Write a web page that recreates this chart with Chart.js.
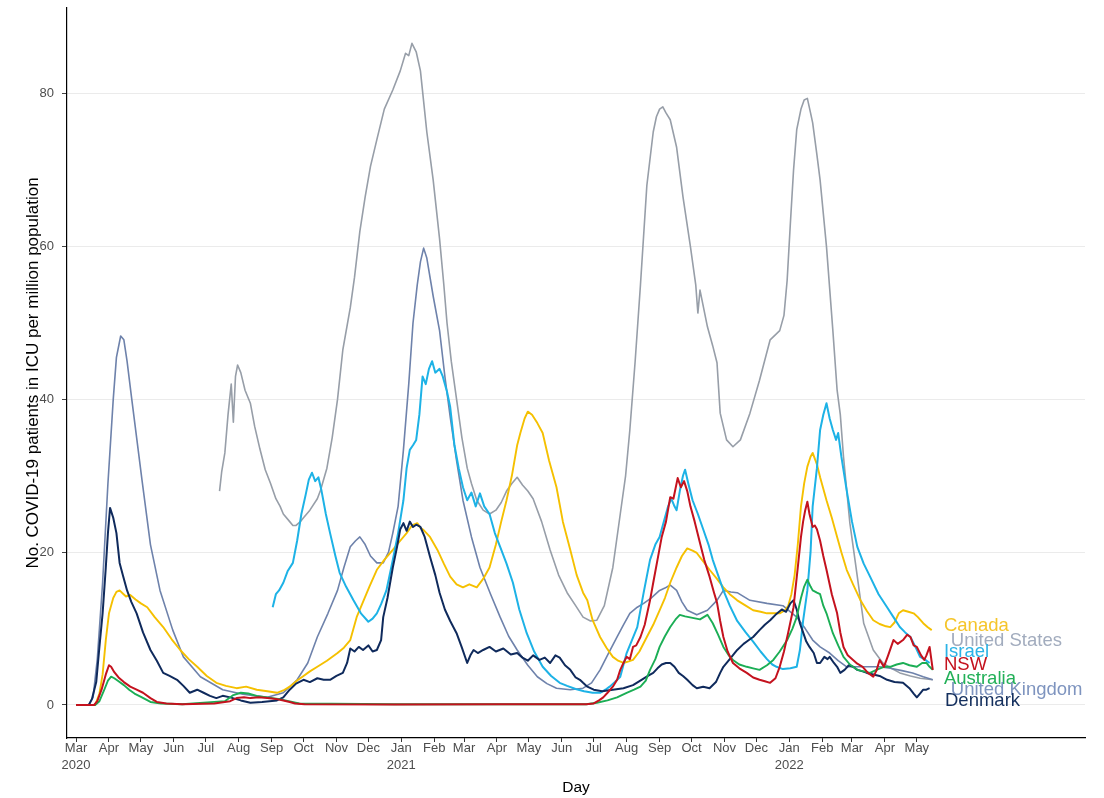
<!DOCTYPE html>
<html><head><meta charset="utf-8">
<script src="https://cdn.jsdelivr.net/npm/chart.js@4.4.1/dist/chart.umd.min.js"></script>
<style>html,body{margin:0;padding:0;background:#fff;}#wrap{width:1104px;height:798px;}</style>
</head><body><div id="wrap"><canvas id="c" width="1104" height="798"></canvas></div>
<script>
// x values = days since 2020-03-01
const xTickDays = [0,31,61,92,122,153,184,214,245,275,306,337,365,396,426,457,487,518,549,579,610,640,671,702,730,761,791];
const xTickLabels = [["Mar","2020"],"Apr","May","Jun","Jul","Aug","Sep","Oct","Nov","Dec",["Jan","2021"],"Feb","Mar","Apr","May","Jun","Jul","Aug","Sep","Oct","Nov","Dec",["Jan","2022"],"Feb","Mar","Apr","May"];
const yTicks = [0,20,40,60,80];

const seriesNames = ["Canada","United States","Israel","NSW","Australia","United Kingdom","Denmark"];

const usData = [[135,28],[137,30.5],[140,33],[143,38],[146,42],[148,37],[150,43],[152,44.5],[155,43.5],[159,41.2],[164,39.5],[168,36.5],[173,33.5],[178,30.8],[183,29],[188,27],[192,26],[195,25],[201,24],[204,23.5],[207,23.5],[211,24],[214,24.5],[220,25.5],[227,27],[230,28.1],[236,31],[241,35],[246,40],[251,46.5],[258,52],[262,56],[267,62],[272,66.5],[277,70.5],[283,74],[290,78],[298,80.5],[305,83],[310,85.3],[313,85],[316,86.6],[320,85.5],[324,83],[327,79],[330,75],[336,68.7],[342,61],[346,55],[349,50],[353,45],[358,40],[363,35],[368,31],[372,29],[377,26.8],[383,25.5],[389,25],[395,25.5],[400,26.5],[405,28],[410,29],[415,29.8],[420,28.8],[425,28],[430,27],[438,24],[446,20.3],[454,17],[462,14.7],[470,13],[477,11.5],[484,11],[490,11.1],[497,13],[505,18],[512,25],[517,30],[521,36],[526,45],[531,55],[537,68],[543,75],[546,77],[549,78],[552,78.3],[555,77.5],[559,76.6],[565,73],[571,66.5],[578,60],[583,55],[585,51.3],[587,54.3],[594,49.5],[599,47],[603,44.8],[606,38.2],[612,34.7],[618,33.8],[625,34.7],[634,38.2],[643,42.5],[653,47.8],[662,49],[666,51],[669,55.6],[672,63],[675,70],[678,75.3],[682,78],[685,79.2],[688,79.4],[691,77.5],[693,76.2],[697,72],[700,68.7],[706,60],[712,49],[716,41.2],[719,38],[722,32.5],[728,23.8],[735,16.8],[741,10.7],[750,7.2],[759,5.5],[767,4.8],[775,4.2],[785,3.8],[794,3.5],[806,3.3]];

const ukData = [[0,0],[12,0],[16,1],[20,6],[25,16],[30,29],[35,40],[38,45.5],[42,48.3],[45,47.8],[48,45],[52,40.5],[57,35],[62,29.5],[70,21],[79,15],[91,9.8],[101,6.3],[117,3.7],[138,2],[157,1.4],[180,1],[195,1.6],[208,3.3],[218,5.5],[227,8.9],[237,12],[246,15],[252,18],[258,20.7],[263,21.5],[267,22],[272,21],[277,19.5],[283,18.6],[289,18.6],[294,20],[298,22.5],[303,26],[308,33.4],[313,42],[317,50],[321,55],[324,58],[327,59.8],[330,58.5],[336,53.5],[342,49],[347,43],[352,37.7],[358,32],[364,26.8],[372,22],[380,18],[390,14.5],[399,11.5],[407,9],[415,7.2],[425,5.2],[434,3.7],[443,2.8],[452,2.2],[465,2],[477,2.2],[485,2.9],[493,4.6],[501,6.8],[509,8.9],[515,10.5],[521,12],[528,12.8],[534,13.3],[541,14],[549,15],[554,15.3],[559,15.7],[565,15],[570,13.5],[575,12.4],[584,11.8],[594,12.4],[603,13.7],[609,15],[616,14.8],[622,14.7],[634,13.7],[650,13.3],[665,13],[678,11.5],[686,10],[693,8.5],[700,7.6],[709,6.8],[717,5.8],[725,5],[735,5],[745,5],[756,5],[766,4.8],[777,4.5],[787,4.2],[797,3.7],[806,3.3]];

const canadaData = [[0,0],[18,0],[22,1.5],[25,4],[28,8.5],[31,12],[35,14],[38,14.8],[41,15],[44,14.6],[47,14.2],[51,14.4],[56,13.8],[61,13.3],[67,12.8],[74,11.5],[82,10.2],[90,8.6],[98,7.2],[106,6],[114,5],[123,3.8],[132,2.9],[141,2.5],[151,2.2],[160,2.4],[170,2],[180,1.8],[189,1.6],[195,1.9],[201,2.4],[208,3.2],[214,3.8],[220,4.4],[227,5],[236,5.8],[246,6.8],[252,7.5],[258,8.5],[264,11.5],[270,13.5],[276,15.5],[283,17.7],[290,19],[298,20.3],[305,21.5],[311,22.5],[316,23.5],[321,23.8],[324,23.2],[327,22.9],[333,22],[340,20.3],[346,18.5],[352,16.8],[358,15.8],[364,15.4],[370,15.8],[377,15.4],[383,16.5],[389,18],[395,21],[400,24],[405,26.8],[410,30],[415,34],[418,35.6],[422,37.5],[425,38.4],[429,38],[434,36.9],[439,35.6],[445,32],[452,28.5],[458,24],[465,20.3],[471,17],[477,14.7],[481,13.7],[486,11.1],[493,8.9],[499,7.5],[505,6.3],[510,5.8],[515,5.5],[520,5.7],[524,5.9],[530,7],[537,8.9],[543,10.5],[549,12.4],[554,14],[559,16],[565,18],[570,19.5],[575,20.5],[580,20.2],[584,19.9],[590,18.8],[596,17.7],[603,16.5],[609,15.4],[615,14.5],[622,13.7],[630,13],[637,12.4],[644,12.2],[650,12],[656,12],[662,12],[667,12.4],[670,13],[673,14.5],[676,17],[679,21],[682,26],[685,29],[688,31.2],[691,32.5],[693,33],[697,31.5],[700,29.8],[703,28.3],[706,26.8],[711,24.5],[716,22],[720,20],[725,17.7],[731,15.8],[738,13.7],[744,12.3],[750,11.1],[756,10.6],[762,10.3],[766,10.2],[770,10.8],[774,12],[778,12.4],[783,12.2],[788,12],[792,11.5],[797,10.7],[801,10.2],[805,9.8]];

const israelData = [[185,12.8],[188,14.5],[191,15],[195,16],[199,17.5],[204,18.6],[208,21.5],[212,25],[216,27.5],[219,29.5],[222,30.4],[225,29.3],[228,29.8],[231,28],[235,25],[239,22.5],[244,19.5],[248,17.3],[254,15.5],[261,13.7],[268,12],[275,10.9],[279,11.3],[283,12],[287,13.2],[292,15],[298,19],[303,22.5],[308,26.8],[311,31],[314,33.4],[317,34],[320,34.7],[323,38],[326,43],[329,42],[332,44],[335,45],[338,43.5],[342,44],[345,43],[349,41],[352,39],[356,34],[360,31],[364,28.5],[368,26.8],[372,27.8],[376,26],[380,27.7],[384,26],[389,25],[394,22.5],[399,20.7],[405,18.5],[411,16],[417,12.5],[424,9.4],[431,7],[439,5],[447,3.8],[455,2.9],[462,2.5],[470,2.1],[478,1.8],[486,1.6],[493,1.6],[498,2],[502,2.4],[507,3],[512,3.7],[518,6.8],[523,8.5],[528,10.2],[534,14.7],[540,19],[545,21],[549,22],[553,24],[557,26],[560,27],[563,26],[565,25.5],[568,28],[571,30],[573,30.8],[576,29],[580,26.8],[585,25],[590,23],[595,21],[599,19],[604,17],[609,15],[615,13],[622,11],[630,9.5],[637,8.3],[644,7],[650,6],[655,5.3],[659,5],[665,4.7],[672,4.8],[678,5],[681,7.2],[684,11],[688,15],[691,20],[693,26],[697,31],[700,36],[703,38],[706,39.5],[709,37.5],[712,36],[715,34.7],[717,35.6],[720,32.5],[725,28.1],[730,24],[735,20.7],[741,18.5],[747,16.8],[755,14.5],[763,12.8],[769,11.5],[775,10.2],[780,9.5],[785,8.9],[790,7.5],[794,6.3],[798,6],[803,5.5]];

const nswData = [[0,0],[17,0],[20,0.5],[24,2],[28,4],[31,5.2],[33,5],[36,4.3],[40,3.6],[45,3],[51,2.4],[57,2],[63,1.6],[70,0.9],[76,0.4],[85,0.2],[100,0.1],[130,0.2],[145,0.5],[151,0.9],[158,1],[164,0.9],[172,1],[180,0.9],[188,0.8],[195,0.6],[201,0.4],[206,0.2],[215,0.1],[300,0.05],[400,0.1],[480,0.1],[487,0.2],[492,0.6],[496,1],[500,1.6],[505,2.4],[509,3.3],[512,4.6],[515,5.5],[518,6.3],[521,6],[524,7.6],[527,7.8],[531,8.9],[535,10.5],[540,13.7],[543,16],[547,19],[551,22],[555,24],[559,27.2],[562,27],[566,29.7],[569,28.5],[572,29.3],[575,28],[578,26],[582,24],[587,21.2],[591,19],[596,16.8],[600,14.8],[603,13.4],[606,11],[609,8.9],[613,7],[618,5.5],[624,4.8],[631,4.2],[637,3.6],[643,3.3],[648,3.1],[653,2.9],[658,3.5],[662,5],[666,7],[670,9.5],[675,12.8],[679,18],[682,22],[684,24],[686,25.5],[688,26.6],[690,25],[693,23.3],[695,23.5],[697,23],[700,21.5],[703,19.5],[706,17.7],[711,14.5],[716,12],[719,9.5],[722,7.6],[726,6.5],[731,5.9],[735,5.4],[740,5],[745,4.2],[750,3.7],[753,4.5],[756,5.9],[760,5],[764,6.5],[769,8.5],[773,8],[778,8.5],[782,9.2],[785,8.9],[788,7.8],[791,7.6],[795,6.5],[798,5.9],[800,6.5],[803,7.6],[806,4.6]];

const australiaData = [[0,0],[18,0],[22,0.5],[26,1.8],[30,3.2],[33,3.7],[36,3.5],[40,3.1],[45,2.6],[50,2],[55,1.5],[62,1],[70,0.4],[80,0.2],[100,0.1],[140,0.5],[148,1.3],[155,1.6],[162,1.5],[170,1.2],[180,1],[190,0.8],[200,0.5],[210,0.2],[300,0.1],[400,0.1],[480,0.1],[490,0.3],[500,0.6],[509,1],[518,1.6],[525,2],[531,2.4],[536,3.2],[540,4.6],[545,6],[549,7.6],[554,9],[559,10.2],[564,11.2],[568,11.8],[573,11.6],[580,11.4],[587,11.2],[594,11.8],[599,10.7],[604,9.2],[609,7.6],[614,6.5],[618,5.9],[624,5.3],[631,5],[637,4.8],[643,4.6],[650,5.2],[656,5.9],[662,7],[669,8.5],[674,10],[678,11.5],[682,14],[685,15.5],[688,16.4],[691,15.5],[693,15],[697,14.7],[700,14.5],[703,13],[706,12],[709,10.7],[712,9.4],[717,7.8],[722,6.3],[728,5.3],[735,4.6],[741,4.4],[747,4.2],[753,4.6],[760,5],[766,5],[772,5.3],[778,5.5],[784,5.2],[791,5],[796,5.5],[800,5.5],[803,5],[806,4.6]];

const denmarkData = [[0,0],[12,0],[15,0.8],[19,3],[22,7.6],[25,12],[28,18],[30,22.5],[32,25.8],[35,24.5],[38,22.5],[41,18.6],[44,17],[48,15],[52,13.5],[57,12],[63,9.5],[70,7.2],[76,5.8],[82,4.2],[88,3.8],[95,3.3],[101,2.5],[107,1.6],[114,2],[120,1.6],[126,1.2],[132,0.9],[138,1.2],[145,1],[155,0.6],[164,0.3],[175,0.4],[189,0.6],[195,1],[201,2],[207,2.8],[214,3.3],[220,3],[227,3.5],[233,3.3],[239,3.3],[245,3.8],[251,4.2],[255,5.5],[258,7.4],[262,7],[266,7.6],[270,7.2],[275,7.8],[279,7],[283,7.2],[287,8.5],[289,11.5],[293,14],[298,18],[302,20.7],[305,23],[308,23.8],[311,22.8],[314,24],[317,23.3],[320,23.6],[324,23.3],[328,22],[333,19.4],[338,17],[342,14.7],[347,12.5],[352,11],[358,9.4],[363,7.5],[368,5.5],[371,6.5],[374,7.2],[378,6.8],[383,7.2],[389,7.6],[395,7],[402,7.4],[409,6.6],[415,6.8],[420,6.2],[425,5.8],[430,6.5],[436,5.9],[441,6.2],[446,5.5],[451,6.5],[455,6.2],[460,5.2],[465,4.6],[470,3.6],[474,3.3],[477,2.9],[481,2.4],[487,2],[495,1.8],[505,2],[515,2.2],[524,2.6],[532,3.3],[538,3.8],[543,4.2],[547,4.8],[551,5.3],[555,5.5],[559,5.5],[563,5],[567,4.2],[571,3.8],[575,3.3],[580,2.6],[584,2.2],[590,2.4],[596,2.2],[602,3],[606,4.2],[609,5],[615,6],[622,7.2],[628,8],[633,8.5],[637,8.9],[643,9.8],[648,10.5],[653,11.1],[658,11.8],[664,12.5],[668,12.2],[672,13.3],[675,13.7],[678,12.5],[681,10.7],[684,9.5],[687,8.3],[690,7.6],[694,6.8],[697,5.5],[700,5.5],[704,6.3],[707,6],[709,6.3],[713,5.5],[716,5],[719,4.2],[723,4.6],[727,5.2],[731,5],[735,4.6],[740,4.4],[744,4.2],[750,4],[756,3.8],[763,3.3],[770,3],[778,2.9],[784,2.2],[788,1.5],[791,1],[794,1.5],[797,2],[800,2],[803,2.2]];

// end-label anchors (day, value) for the series names
const labelDays = [816.5,823,816.5,816.5,816.5,823,817.5];
const labelValues = [10.4,8.4,6.9,5.2,3.4,2.0,0.5];

const FONT = '"Liberation Sans", Arial, Helvetica, sans-serif';
Chart.defaults.font.family = FONT;

const lineColors = {Canada:'#F5C000', US:'#979EA8', Israel:'#1DB2E6', NSW:'#C4121E', Australia:'#1BAE55', UK:'#6E82AB', Denmark:'#0F2A5C'};
const labelColors = ['#F5C52A','#A2ACBE','#2BB3E6','#C4121E','#22B058','#7E94BF','#15305E'];

function pts(a){ return a.map(p => ({x:p[0], y:p[1]})); }
function ds(data, color, width){ return {data: pts(data), borderColor: color, borderWidth: width, pointRadius: 0, fill: false, tension: 0, borderJoinStyle: 'round'}; }

const datasets = [
  ds(nswData, lineColors.NSW, 2),
  ds(australiaData, lineColors.Australia, 1.9),
  ds(denmarkData, lineColors.Denmark, 2),
  ds(israelData, lineColors.Israel, 2),
  ds(canadaData, lineColors.Canada, 1.9),
  ds(ukData, lineColors.UK, 1.6),
  ds(usData, lineColors.US, 1.6)
];

const endLabels = {
  id: 'endLabels',
  afterDatasetsDraw(chart){
    const {ctx, scales:{x, y}} = chart;
    ctx.save();
    ctx.font = '18.5px ' + FONT;
    ctx.textAlign = 'left';
    ctx.textBaseline = 'middle';
    seriesNames.forEach((n, i) => {
      ctx.fillStyle = labelColors[i];
      ctx.fillText(n, x.getPixelForValue(labelDays[i]), y.getPixelForValue(labelValues[i]));
    });
    ctx.restore();
  }
};

new Chart(document.getElementById('c'), {
  type: 'line',
  data: {datasets},
  options: {
    responsive: false,
    animation: false,
    layout: {padding: {left: 0, right: 19, top: 8, bottom: 0}},
    plugins: {legend: {display: false}, tooltip: {enabled: false}},
    scales: {
      x: {
        type: 'linear', min: -8.5, max: 949.2,
        afterFit(s){ s.height = 60; s.paddingLeft = 0; s.paddingRight = 0; },
        afterBuildTicks(s){ s.ticks = xTickDays.map(v => ({value: v})); },
        ticks: {autoSkip: false, maxRotation: 0, minRotation: 0, padding: -2,
          callback: (v, i) => xTickLabels[i], color: '#4d4d4d', font: {size: 13, lineHeight: 1.28}},
        grid: {drawOnChartArea: false, drawTicks: true, tickLength: 4, tickColor: '#333'},
        border: {color: '#000', width: 1.2},
        title: {display: true, text: 'Day', color: '#000', font: {size: 15.5}, padding: {top: 0, bottom: 1}}
      },
      y: {
        min: -4.32, max: 91.23,
        afterFit(s){ s.width = 67; s.paddingTop = 0; s.paddingBottom = 0; },
        afterBuildTicks(s){ s.ticks = yTicks.map(v => ({value: v})); },
        ticks: {color: '#4d4d4d', font: {size: 13}, padding: 8},
        grid: {color: '#ebebeb', lineWidth: 1, tickLength: 5, tickColor: '#444'},
        border: {color: '#000', width: 1.2},
        title: {display: true, text: 'No. COVID-19 patients in ICU per million population', color: '#000', font: {size: 17}, padding: {top: 23, bottom: 0}}
      }
    }
  },
  plugins: [endLabels]
});
</script>
</body></html>
